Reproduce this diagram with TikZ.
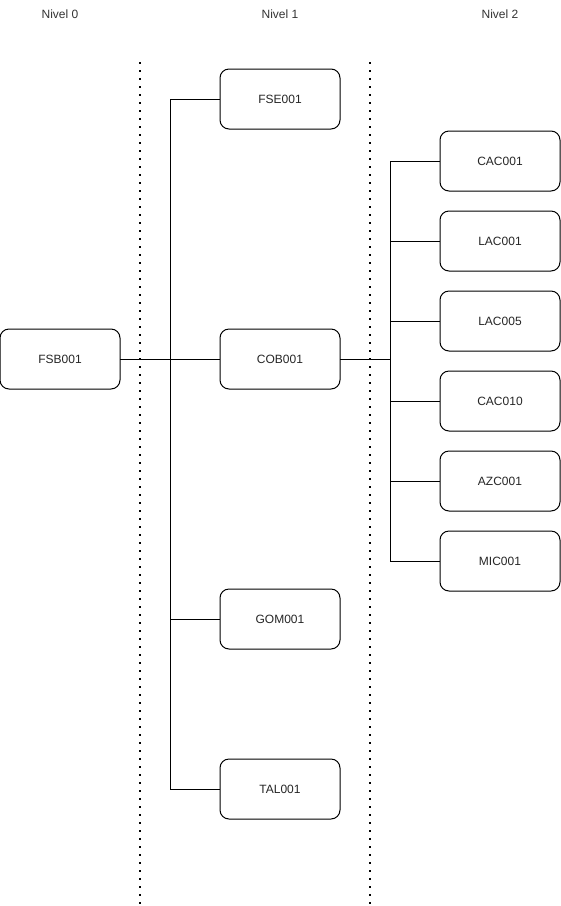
\documentclass[tikz,border=0pt]{standalone}
\usepackage{fontspec}
\setmainfont{Liberation Sans}
\usetikzlibrary{positioning}
\tikzset{
  item/.style   ={rectangle, rounded corners=9pt, draw=black, line width=1pt, fill=white,
                  minimum width=120pt, minimum height=60pt, inner sep=0pt, outer sep=0pt,
                  font=\fontsize{12}{14}\selectfont, text=black!85},
  link/.style   ={draw=black, line width=1pt},
  divider/.style={draw=black, line width=1.6pt, dash pattern=on 1.6pt off 6.4pt},
  lvl/.style    ={font=\fontsize{12}{14}\selectfont, text=black!80, inner sep=0pt}
}
\begin{document}
\begin{tikzpicture}[x=1pt,y=-1pt]
\useasboundingbox (0,0) rectangle (561,906);
%% column headers
\node[lvl] (lvl0) at (60,14)  {Nivel 0};
\node[lvl] (lvl1) at (280,14) {Nivel 1};
\node[lvl] (lvl2) at (500,14) {Nivel 2};
%% dotted separators
\coordinate (sepA) at (140,62);
\coordinate (sepB) at (370,62);
\draw[divider] (sepA) -- (140,905);
\draw[divider] (sepB) -- (370,905);
%% nivel 0
\node[item] (fsb) at (60,359)  {FSB001};
%% nivel 1
\node[item] (fse) at (280,99)  {FSE001};
\node[item] (cob) at (280,359) {COB001};
\node[item] (gom) at (280,619) {GOM001};
\node[item] (tal) at (280,789) {TAL001};
%% nivel 2
\node[item] (cac1)  at (500,161) {CAC001};
\node[item] (lac1)  at (500,241) {LAC001};
\node[item] (lac5)  at (500,321) {LAC005};
\node[item] (cac10) at (500,401) {CAC010};
\node[item] (azc)   at (500,481) {AZC001};
\node[item] (mic)   at (500,561) {MIC001};
%% connectors
\coordinate (j0) at (170,359);
\coordinate (j1) at (390,359);
\draw[link] (fsb.east) -- (j0);
\foreach \t in {fse,cob,gom,tal}
  \draw[link] (j0) |- (\t.west);
\draw[link] (cob.east) -- (j1);
\foreach \t in {cac1,lac1,lac5,cac10,azc,mic}
  \draw[link] (j1) |- (\t.west);
\end{tikzpicture}
\end{document}
